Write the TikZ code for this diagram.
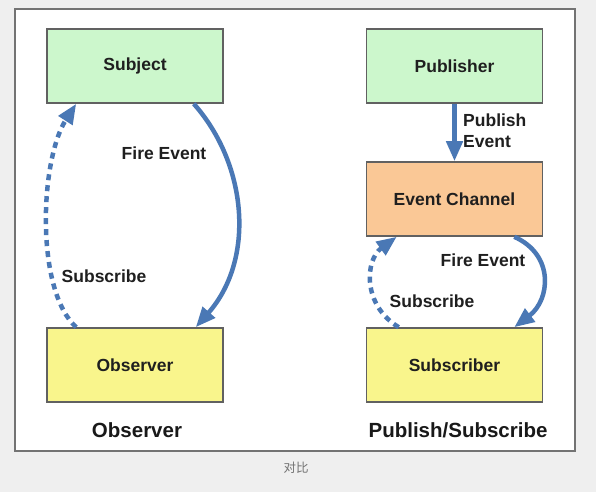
\documentclass[tikz,border=0pt]{standalone}
\usepackage{fontspec}
\setmainfont{Liberation Sans}
\newfontfamily\cjk{Noto Sans CJK SC}
\usetikzlibrary{arrows.meta}
\definecolor{bg}{HTML}{EFEFEF}
\definecolor{boxgreen}{HTML}{CCF7CC}
\definecolor{boxyellow}{HTML}{F9F58C}
\definecolor{boxorange}{HTML}{FAC896}
\definecolor{arrowblue}{HTML}{4A78B5}
\begin{document}
\begin{tikzpicture}[x=1pt,y=-1pt,
 box/.style={draw=black!62, line width=1.6pt, minimum width=176pt, minimum height=74pt, inner sep=0pt, font=\fontsize{17.5}{20}\selectfont\bfseries, text=black!88},
 lbl/.style={font=\fontsize{17.5}{21}\selectfont\bfseries, text=black!88, inner sep=0pt},
 ttl/.style={font=\fontsize{20.5}{25}\selectfont\bfseries, text=black!90, inner sep=0pt},
 flow/.style={draw=arrowblue, line width=4.5pt, -{Triangle[length=20pt,width=16pt]}},
 subarrow/.style={flow, dash pattern=on 6pt off 5pt}]
\useasboundingbox (0,0) rectangle (596,492);
\fill[bg] (0,0) rectangle (596,492);
\draw[draw=black!55, fill=white, line width=1.4pt] (15,9) rectangle (575,451);

\node[box, fill=boxgreen] (subj) at (135,66) {Subject};
\node[box, fill=boxyellow] (obs) at (135,365) {Observer};
\node[box, fill=boxgreen] (pub) at (454.5,66) {Publisher};
\node[box, fill=boxorange] (chan) at (454.5,199) {Event Channel};
\node[box, fill=boxyellow] (subr) at (454.5,365) {Subscriber};

\node[ttl] (t1) at (137,430) {Observer};
\node[ttl] (t2) at (458,430) {Publish/Subscribe};
\node[font=\cjk\fontsize{12.5}{14}\selectfont, text=black!55] (cap) at (296,468) {对比};

% left side
\draw[flow] ([xshift=-30pt]subj.south east) .. controls (248,165) and (255,260) .. ([xshift=-28pt]obs.north east);
\draw[subarrow] ([xshift=30pt]obs.north west) .. controls (35,290) and (40,160) .. ([xshift=30pt]subj.south west);
\node[lbl] (l1) at (164,153) {Fire Event};
\node[lbl] (l2) at (104,276) {Subscribe};

% right side
\draw[flow] (pub.south) -- (chan.north);
\node[lbl, anchor=west, align=left] (l3) at (463,131) {Publish\\Event};
\draw[flow] ([xshift=-29pt]chan.south east) .. controls (555,255) and (550,300) .. ([xshift=-29pt]subr.north east);
\draw[subarrow] ([xshift=33pt]subr.north west) .. controls (362,305) and (365,260) .. ([xshift=31pt]chan.south west);
\node[lbl] (l4) at (483,260) {Fire Event};
\node[lbl] (l5) at (432,301) {Subscribe};
\end{tikzpicture}
\end{document}
